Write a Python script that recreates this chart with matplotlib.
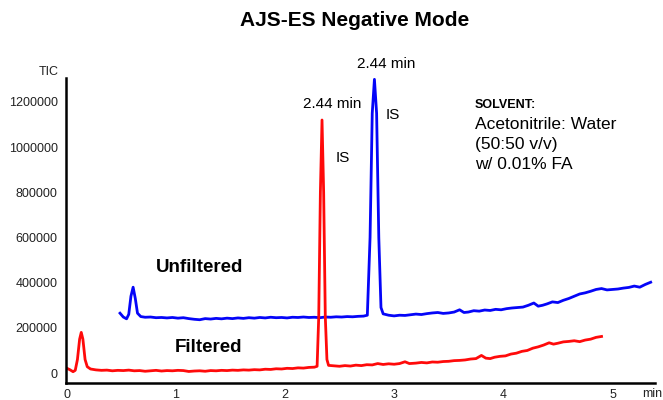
import matplotlib.pyplot as plt
import numpy as np

plt.rcParams['font.family'] = ['Liberation Sans', 'DejaVu Sans']

# retention time (min) and TIC (thousands of counts)
filtered_t = [0.00, 0.03, 0.06, 0.08, 0.10, 0.12, 0.135, 0.15, 0.17, 0.19, 0.22, 0.27,
              0.32, 0.37, 0.42, 0.47, 0.52, 0.57, 0.62, 0.67, 0.72, 0.77, 0.82, 0.87,
              0.92, 0.97, 1.02, 1.07, 1.12, 1.17, 1.22, 1.27, 1.32, 1.37, 1.42, 1.47,
              1.52, 1.57, 1.62, 1.67, 1.72, 1.77, 1.82, 1.87, 1.92, 1.97, 2.02, 2.07,
              2.12, 2.17, 2.22, 2.27, 2.295, 2.31, 2.325, 2.34, 2.355, 2.37, 2.385, 2.40,
              2.45, 2.50, 2.55, 2.60, 2.65, 2.70, 2.75, 2.80, 2.85, 2.90, 2.95, 3.00,
              3.05, 3.10, 3.14, 3.20, 3.25, 3.30, 3.35, 3.40, 3.45, 3.50, 3.55, 3.60,
              3.65, 3.70, 3.75, 3.80, 3.84, 3.88, 3.92, 3.97, 4.02, 4.07, 4.12, 4.17,
              4.22, 4.27, 4.32, 4.37, 4.42, 4.46, 4.50, 4.55, 4.60, 4.65, 4.70, 4.75,
              4.80, 4.85, 4.90]
filtered_k = [22, 15, 6, 12, 60, 150, 180, 150, 60, 28, 18, 14,
              12, 13, 10, 12, 11, 13, 10, 11, 8, 10, 12, 9,
              11, 10, 12, 11, 7, 9, 10, 8, 11, 10, 12, 11,
              13, 12, 14, 13, 15, 14, 17, 16, 19, 18, 21, 20,
              23, 22, 25, 26, 30, 250, 800, 1120, 800, 250, 60, 34,
              32, 30, 33, 31, 35, 33, 37, 36, 42, 38, 41, 39,
              42, 50, 42, 44, 47, 45, 49, 48, 51, 52, 55, 56,
              58, 62, 64, 78, 66, 64, 70, 74, 76, 84, 88, 96,
              100, 110, 116, 124, 134, 128, 132, 138, 140, 143, 139, 146,
              150, 158, 162]

unfiltered_t = [0.49, 0.52, 0.55, 0.57, 0.59, 0.61, 0.63, 0.65, 0.68, 0.72, 0.77, 0.82,
                0.87, 0.92, 0.97, 1.02, 1.07, 1.12, 1.17, 1.22, 1.27, 1.32, 1.37, 1.42,
                1.47, 1.52, 1.57, 1.62, 1.67, 1.72, 1.77, 1.82, 1.87, 1.92, 1.97, 2.02,
                2.07, 2.12, 2.17, 2.22, 2.27, 2.32, 2.37, 2.42, 2.47, 2.52, 2.57, 2.62,
                2.67, 2.72, 2.755, 2.78, 2.80, 2.82, 2.84, 2.86, 2.88, 2.90, 2.95, 3.00,
                3.05, 3.10, 3.15, 3.20, 3.25, 3.30, 3.35, 3.40, 3.45, 3.50, 3.55, 3.60,
                3.64, 3.68, 3.73, 3.78, 3.83, 3.88, 3.93, 3.98, 4.03, 4.08, 4.13, 4.18,
                4.23, 4.28, 4.32, 4.36, 4.40, 4.45, 4.50, 4.55, 4.60, 4.65, 4.70, 4.75,
                4.80, 4.85, 4.90, 4.95, 5.00, 5.05, 5.10, 5.15, 5.20, 5.25, 5.30, 5.35]
unfiltered_k = [265, 248, 240, 260, 340, 380, 330, 265, 250, 247, 248, 245,
                246, 244, 246, 243, 245, 241, 238, 236, 241, 239, 242, 240,
                243, 241, 244, 242, 245, 243, 246, 244, 247, 245, 246, 244,
                247, 246, 248, 246, 247, 245, 248, 247, 249, 248, 250, 249,
                251, 252, 256, 600, 1150, 1300, 1150, 600, 290, 262, 256, 253,
                256, 255, 258, 261, 259, 263, 266, 268, 264, 266, 270, 280,
                268, 270, 276, 274, 279, 277, 282, 280, 285, 288, 290, 292,
                300, 310, 296, 300, 306, 315, 312, 322, 330, 340, 350, 355,
                362, 370, 374, 368, 370, 372, 376, 379, 385, 380, 392, 402]

y_ticks = [0, 200000, 400000, 600000, 800000, 1000000, 1200000]
x_ticks = [0, 1, 2, 3, 4, 5]
solvent_lines = ['Acetonitrile: Water', '(50:50 v/v)', 'w/ 0.01% FA']

fig = plt.figure(figsize=(6.63, 4.0), dpi=100)
ax = fig.add_axes([0.0995, 0.0425, 0.8885, 0.762])

ax.plot(unfiltered_t, np.array(unfiltered_k) * 1000, color='#0505f8', lw=2.0)
ax.plot(filtered_t, np.array(filtered_k) * 1000, color='#ff0a0a', lw=2.0)

ax.set_xlim(-0.005, 5.39)
ax.set_ylim(-44000, 1305000)
ax.set_xticks(x_ticks)
ax.set_yticks(y_ticks)
ax.set_yticklabels([str(v) for v in y_ticks])
ax.tick_params(length=0, labelsize=9, colors='#222222')
ax.tick_params(axis='x', pad=4)
ax.tick_params(axis='y', pad=6)
for s in ['top', 'right']:
    ax.spines[s].set_visible(False)
for s in ['left', 'bottom']:
    ax.spines[s].set_linewidth(1.8)
    ax.spines[s].set_color('black')

fig.text(0.535, 0.948, 'AJS-ES Negative Mode', ha='center', va='center',
         fontsize=15, fontweight='bold')
fig.text(0.073, 0.82, 'TIC', ha='center', va='center', fontsize=9, color='#222222')
fig.text(0.968, 0.015, 'min', ha='left', va='center', fontsize=9, color='#222222')

ax.text(1.22, 468000, 'Unfiltered', ha='center', va='center', fontsize=13.5, fontweight='bold')
ax.text(1.3, 115000, 'Filtered', ha='center', va='center', fontsize=13.5, fontweight='bold')

ax.text(2.43, 1190000, '2.44 min', ha='center', va='center', fontsize=11)
ax.text(2.53, 950000, 'IS', ha='center', va='center', fontsize=11)
ax.text(2.93, 1370000, '2.44 min', ha='center', va='center', fontsize=11, clip_on=False)
ax.text(2.99, 1140000, 'IS', ha='center', va='center', fontsize=11)

ax.text(3.74, 1185000, 'SOLVENT:', ha='left', va='center', fontsize=9, fontweight='bold')
for i, line in enumerate(solvent_lines):
    ax.text(3.74, 1100000 - i * 88000, line, ha='left', va='center', fontsize=12.5)

plt.savefig('out.png', dpi=100)
